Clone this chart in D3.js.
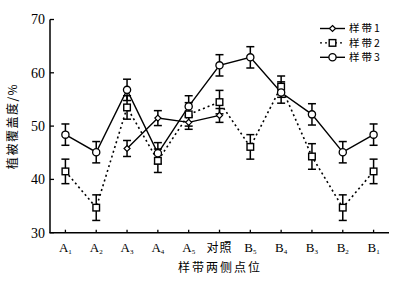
<!DOCTYPE html>
<html>
<head>
<meta charset="utf-8">
<script src="https://cdn.jsdelivr.net/npm/d3@7"></script>
<style>
    body { margin: 0; background: #fff; }
    svg { display: block; }
</style>
</head>
<body>
<div id="chart"></div>
<script>

var categories = ["A1", "A2", "A3", "A4", "A5", "对照", "B5", "B4", "B3", "B2", "B1"];

// 样带1 only runs from A3 to 对照
var band1 = [null, null, 45.8, 51.5, 50.7, 52.0, null, null, null, null, null];
var band1Err = [null, null, 1.5, 1.4, 1.3, 1.3, null, null, null, null, null];

var band2 = [41.5, 34.7, 53.5, 43.5, 52.2, 54.5, 46.1, 57.4, 44.3, 34.7, 41.5];
var band2Err = [2.3, 2.4, 2.2, 2.2, 2.2, 2.2, 2.3, 2.0, 2.4, 2.4, 2.3];

var band3 = [48.4, 45.1, 56.8, 44.9, 53.7, 61.4, 62.9, 56.3, 52.2, 45.1, 48.4];
var band3Err = [2.0, 2.0, 2.0, 2.0, 2.0, 2.0, 2.0, 2.0, 2.0, 2.0, 2.0];

var yTicks = [30, 40, 50, 60, 70];
var seriesNames = ["样带1", "样带2", "样带3"];

var W = 401, H = 281;
var serif = "'Liberation Serif', 'DejaVu Serif', serif";
var cjk = "'Noto Sans CJK SC', sans-serif";

var svg = d3.select("#chart").append("svg")
    .attr("width", W)
    .attr("height", H);

svg.append("rect").attr("width", W).attr("height", H).attr("fill", "#fff");

var x = d3.scalePoint()
    .domain(categories)
    .range([50, 389])
    .padding(0.5);

var y = d3.scaleLinear()
    .domain([30, 70])
    .range([232.7, 19.5]);

// axes
svg.append("line")
    .attr("x1", 50).attr("x2", 50)
    .attr("y1", y(70)).attr("y2", y(30))
    .attr("stroke", "#000").attr("stroke-width", 1.5);
svg.append("line")
    .attr("x1", 49.3).attr("x2", 389)
    .attr("y1", y(30)).attr("y2", y(30))
    .attr("stroke", "#000").attr("stroke-width", 1.5);

yTicks.forEach(function(t){
    svg.append("line")
        .attr("x1", 50).attr("x2", 54)
        .attr("y1", y(t)).attr("y2", y(t))
        .attr("stroke", "#000").attr("stroke-width", 1.3);
    svg.append("text")
        .attr("x", 45)
        .attr("y", y(t))
        .attr("dy", ".35em")
        .attr("text-anchor", "end")
        .attr("font-family", serif)
        .attr("font-size", 14)
        .text(t);
});

categories.forEach(function(c){
    var cx = x(c);
    svg.append("line")
        .attr("x1", cx).attr("x2", cx)
        .attr("y1", y(30)).attr("y2", y(30) - 3)
        .attr("stroke", "#000").attr("stroke-width", 1.3);

    var lab = svg.append("text")
        .attr("x", cx)
        .attr("y", 252)
        .attr("text-anchor", "middle");
    var m = c.match(/^([AB])(\d)$/);
    if (m) {
        lab.attr("font-family", serif).attr("font-size", 13);
        lab.append("tspan").text(m[1]);
        lab.append("tspan")
            .attr("font-size", 7)
            .attr("dy", 2)
            .text(m[2]);
    } else {
        lab.attr("font-family", cjk).attr("font-size", 12)
            .attr("letter-spacing", 1)
            .text(c);
    }
});

// axis titles
svg.append("text")
    .attr("x", 220)
    .attr("y", 272)
    .attr("text-anchor", "middle")
    .attr("font-family", cjk)
    .attr("font-size", 12)
    .attr("letter-spacing", 2)
    .text("样带两侧点位");

svg.append("text")
    .attr("transform", "translate(17,126) rotate(-90)")
    .attr("text-anchor", "middle")
    .attr("font-family", cjk)
    .attr("font-size", 12)
    .attr("letter-spacing", 1.5)
    .text("植被覆盖度/%");

function toPoints(vals, errs){
    var pts = [];
    for (var i = 0; i != categories.length; i++) {
        if (vals[i] != null)
            pts.push({cat: categories[i], v: vals[i], e: errs[i]});
    }
    return pts;
}

var series = [
    {name: seriesNames[1], pts: toPoints(band2, band2Err), dash: "2,3", mark: "square"},
    {name: seriesNames[0], pts: toPoints(band1, band1Err), dash: null, mark: "diamond"},
    {name: seriesNames[2], pts: toPoints(band3, band3Err), dash: null, mark: "circle"}
];

var line = d3.line()
    .x(function(d){ return x(d.cat); })
    .y(function(d){ return y(d.v); });

function drawMarker(g, type, cx, cy){
    if (type == "circle") {
        g.append("circle").attr("cx", cx).attr("cy", cy).attr("r", 3.6)
            .attr("fill", "#fff").attr("stroke", "#000").attr("stroke-width", 1.3);
    } else if (type == "square") {
        g.append("rect").attr("x", cx - 3.3).attr("y", cy - 3.3)
            .attr("width", 6.6).attr("height", 6.6)
            .attr("fill", "#fff").attr("stroke", "#000").attr("stroke-width", 1.4);
    } else {
        g.append("path")
            .attr("d", "M" + cx + "," + (cy - 3) + "L" + (cx + 3) + "," + cy +
                "L" + cx + "," + (cy + 3) + "L" + (cx - 3) + "," + cy + "Z")
            .attr("fill", "#fff").attr("stroke", "#000").attr("stroke-width", 1.2);
    }
}

series.forEach(function(s){
    svg.append("path")
        .attr("d", line(s.pts))
        .attr("fill", "none")
        .attr("stroke", "#000")
        .attr("stroke-width", s.dash ? 1.6 : 1.4)
        .attr("stroke-dasharray", s.dash);
});

series.forEach(function(s){
    var g = svg.append("g").attr("class", "errBars");
    s.pts.forEach(function(d){
        var cx = x(d.cat);
        g.append("line")
            .attr("x1", cx).attr("x2", cx)
            .attr("y1", y(d.v + d.e)).attr("y2", y(d.v - d.e))
            .attr("stroke", "#000").attr("stroke-width", 1.5);
        [d.v + d.e, d.v - d.e].forEach(function(v){
            g.append("line")
                .attr("x1", cx - 4).attr("x2", cx + 4)
                .attr("y1", y(v)).attr("y2", y(v))
                .attr("stroke", "#000").attr("stroke-width", 1.5);
        });
    });
});

series.forEach(function(s){
    var g = svg.append("g").attr("class", "marks");
    s.pts.forEach(function(d){
        drawMarker(g, s.mark, x(d.cat), y(d.v));
    });
});

// legend
var legendRows = [
    {name: seriesNames[0], dash: null, mark: "diamond"},
    {name: seriesNames[1], dash: "2,3", mark: "square"},
    {name: seriesNames[2], dash: null, mark: "circle"}
];
legendRows.forEach(function(r, i){
    var ly = 28.5 + i * 14.4;
    var g = svg.append("g").attr("class", "legend");
    g.append("line")
        .attr("x1", 320).attr("x2", 345)
        .attr("y1", ly).attr("y2", ly)
        .attr("stroke", "#000").attr("stroke-width", 1.4)
        .attr("stroke-dasharray", r.dash);
    drawMarker(g, r.mark, 332.5, ly);
    g.append("text")
        .attr("x", 349)
        .attr("y", ly)
        .attr("dy", ".35em")
        .attr("font-family", cjk)
        .attr("font-size", 10.5)
        .attr("letter-spacing", 2)
        .text(r.name);
});

</script>
</body>
</html>
